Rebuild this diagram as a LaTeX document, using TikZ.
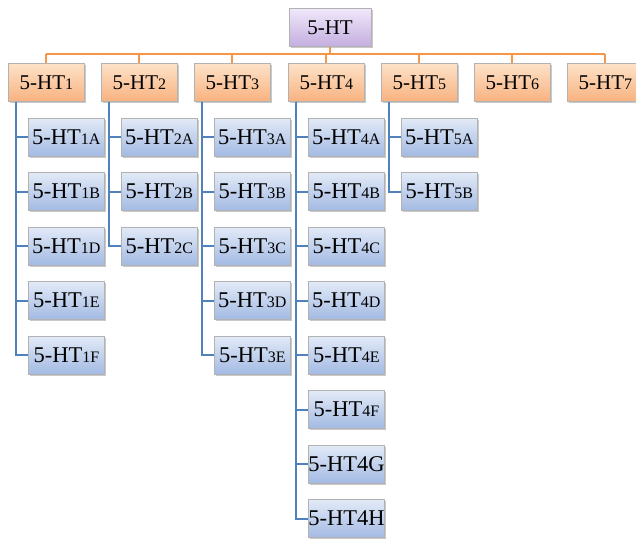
\documentclass[tikz,border=0pt]{standalone}
\usepackage{fontspec}
\setmainfont{Liberation Serif}
\usetikzlibrary{shadows}
\definecolor{pTop}{HTML}{F0E8FA}
\definecolor{pBot}{HTML}{C4AEDF}
\definecolor{oTop}{HTML}{FDE2C8}
\definecolor{oBot}{HTML}{F8B280}
\definecolor{bTop}{HTML}{E2EAF7}
\definecolor{bBot}{HTML}{A3BAE3}
\definecolor{oLine}{HTML}{F79646}
\definecolor{bLine}{HTML}{4F81BD}
\newcommand{\subtxt}[1]{{\fontsize{16}{16}\selectfont #1}}
\tikzset{
  boxbase/.style={draw=black!30, line width=0.7pt, inner sep=0pt, minimum height=38pt,
    drop shadow={shadow xshift=1.5pt, shadow yshift=-1.5pt, opacity=0.3, fill=black!70}},
  topbox/.style={boxbase, minimum width=82pt, top color=pTop, bottom color=pBot, font=\fontsize{21}{21}\selectfont},
  parbox/.style={boxbase, minimum width=76pt, top color=oTop, bottom color=oBot, font=\fontsize{21}{21}\selectfont},
  childbox/.style={boxbase, minimum width=76pt, top color=bTop, bottom color=bBot, font=\fontsize{22.5}{22.5}\selectfont},
  obus/.style={draw=oLine, line width=2pt},
  bline/.style={draw=bLine, line width=2pt},
}
\begin{document}
\begin{tikzpicture}
\useasboundingbox (0,0) rectangle (636pt,-538pt);
% top node
\node[topbox, anchor=north] (top) at (330pt,-8pt) {5-HT};
% parents
\foreach \i/\x in {1/8,2/101,3/194,4/288,5/381,6/474,7/567}
  \node[parbox, anchor=north west] (p\i) at (\x pt,-63pt) {5-HT\subtxt{\i}};
% bus
\coordinate (bus) at (330pt,-54pt);
\draw[obus] (top.south) -- (bus);
\draw[obus] (bus -| p1.north) -- (bus -| p7.north);
\foreach \i in {1,...,7}
  \draw[obus] (bus -| p\i.north) -- (p\i.north);
% group 1
\foreach \s [count=\k] in {1A,1B,1D,1E,1F} {
  \node[childbox, anchor=west] (c\s) at (28pt, {-137pt-(\k-1)*54.5pt}) {5-HT\subtxt{\s}};
  \draw[bline] ([xshift=8pt]p1.south west) |- (c\s.west);
}
% group 2
\foreach \s [count=\k] in {2A,2B,2C} {
  \node[childbox, anchor=west] (c\s) at (121pt, {-137pt-(\k-1)*54.5pt}) {5-HT\subtxt{\s}};
  \draw[bline] ([xshift=8pt]p2.south west) |- (c\s.west);
}
% group 3
\foreach \s [count=\k] in {3A,3B,3C,3D,3E} {
  \node[childbox, anchor=west] (c\s) at (214pt, {-137pt-(\k-1)*54.5pt}) {5-HT\subtxt{\s}};
  \draw[bline] ([xshift=8pt]p3.south west) |- (c\s.west);
}
% group 4
\foreach \s [count=\k] in {4A,4B,4C,4D,4E,4F} {
  \node[childbox, anchor=west] (c\s) at (308pt, {-137pt-(\k-1)*54.5pt}) {5-HT\subtxt{\s}};
  \draw[bline] ([xshift=8pt]p4.south west) |- (c\s.west);
}
\node[childbox, anchor=west] (c4G) at (308pt, {-137pt-6*54.5pt}) {5-HT4G};
\node[childbox, anchor=west] (c4H) at (308pt, {-137pt-7*54.5pt}) {5-HT4H};
\draw[bline] ([xshift=8pt]p4.south west) |- (c4G.west);
\draw[bline] ([xshift=8pt]p4.south west) |- (c4H.west);
% group 5
\foreach \s [count=\k] in {5A,5B} {
  \node[childbox, anchor=west] (c\s) at (401pt, {-137pt-(\k-1)*54.5pt}) {5-HT\subtxt{\s}};
  \draw[bline] ([xshift=8pt]p5.south west) |- (c\s.west);
}
\end{tikzpicture}
\end{document}
